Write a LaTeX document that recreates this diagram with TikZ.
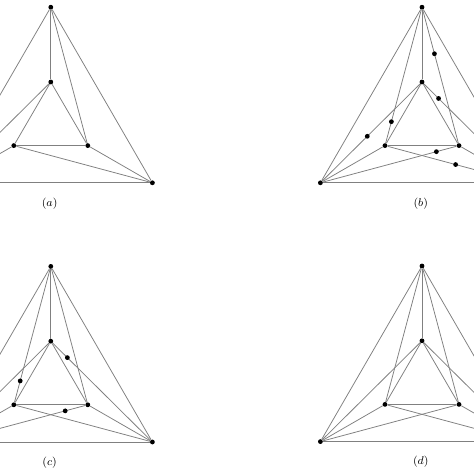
\documentclass[tikz,border=0pt]{standalone}
\tikzset{
  vertex/.style={circle, fill=black, inner sep=0pt, minimum size=0.12cm},
  subdiv/.style={circle, fill=black, inner sep=0pt, minimum size=0.12cm},
  edge/.style={draw=black!50, line width=0.55pt},
  caption/.style={font=\footnotesize},
}
% six vertices of one drawing, shifted so that the top vertex sits at #2
\newcommand{\kverts}[2]{%
  \begin{scope}[shift={#2}]
    \node[vertex] (#1-top) at (0,0) {};
    \node[vertex] (#1-itop) at (0,-1.87) {};
    \node[vertex] (#1-ileft) at (-0.925,-3.46) {};
    \node[vertex] (#1-iright) at (0.925,-3.46) {};
    \node[vertex] (#1-left) at (-2.54,-4.39) {};
    \node[vertex] (#1-right) at (2.54,-4.39) {};
    \node[caption] (#1-cap) at (-0.03,-4.9) {$(#1)$};
  \end{scope}}
\begin{document}
\begin{tikzpicture}
  \path[use as bounding box, clip] (0,0) rectangle (11.85,11.85);

  \kverts{a}{(1.27,11.67)}
  \kverts{b}{(10.55,11.67)}
  \kverts{c}{(1.27,5.19)}
  \kverts{d}{(10.55,5.20)}

  % edges every drawing has
  \foreach \g in {a,b,c,d}
    \foreach \u/\v in {top/left, top/right, left/right, itop/ileft, itop/iright,
                       ileft/iright, top/itop, left/ileft, right/iright}
      \draw[edge] (\g-\u) -- (\g-\v);

  % (a)
  \foreach \u/\v in {top/iright, left/itop, right/ileft}
    \draw[edge] (a-\u) -- (a-\v);

  % (b)
  \foreach \u/\v/\p in {top/ileft/.84, top/iright/.33, left/itop/.46,
                        left/iright/.85, itop/right/.15, ileft/right/.51}
    \draw[edge] (b-\u) -- node[subdiv, pos=\p, name=b-\u-\v] {} (b-\v);

  % (c)
  \foreach \u/\v in {top/iright, left/itop, right/ileft}
    \draw[edge] (c-\u) -- (c-\v);
  \foreach \u/\v/\p in {top/ileft/.84, left/iright/.85, itop/right/.15}
    \draw[edge] (c-\u) -- node[subdiv, pos=\p, name=c-\u-\v] {} (c-\v);

  % (d)
  \foreach \u/\v in {top/ileft, top/iright, left/itop, left/iright,
                     right/itop, right/ileft}
    \draw[edge] (d-\u) -- (d-\v);
\end{tikzpicture}
\end{document}
